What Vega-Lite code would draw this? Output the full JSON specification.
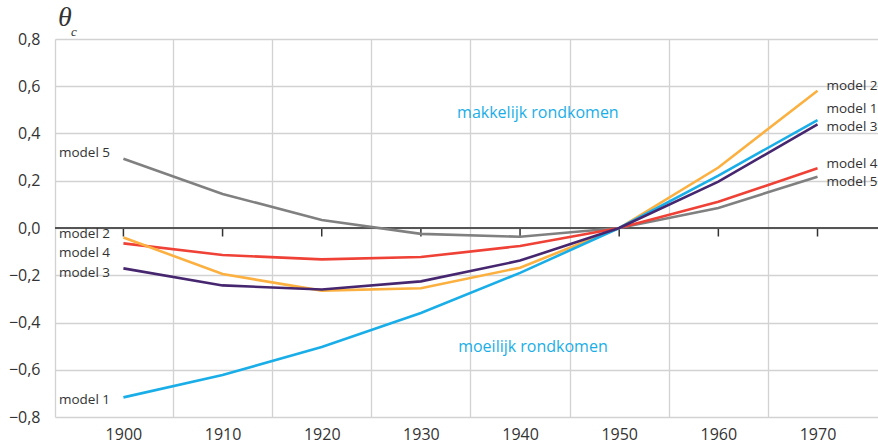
{
  "$schema": "https://vega.github.io/schema/vega-lite/v6.json",
  "width": 823,
  "height": 378,
  "autosize": {"type": "none"},
  "padding": {"left": 55, "top": 39, "right": 0, "bottom": 28},
  "background": "white",
  "config": {"view": {"stroke": null}, "font": "Open Sans"},
  "datasets": {
    "series": [
      {"year": 1900, "model": "model 5", "value": 0.293},
      {"year": 1910, "model": "model 5", "value": 0.144},
      {"year": 1920, "model": "model 5", "value": 0.034},
      {"year": 1930, "model": "model 5", "value": -0.025},
      {"year": 1940, "model": "model 5", "value": -0.037},
      {"year": 1950, "model": "model 5", "value": 0.0},
      {"year": 1960, "model": "model 5", "value": 0.085},
      {"year": 1970, "model": "model 5", "value": 0.217},
      {"year": 1900, "model": "model 4", "value": -0.065},
      {"year": 1910, "model": "model 4", "value": -0.114},
      {"year": 1920, "model": "model 4", "value": -0.133},
      {"year": 1930, "model": "model 4", "value": -0.123},
      {"year": 1940, "model": "model 4", "value": -0.076},
      {"year": 1950, "model": "model 4", "value": 0.0},
      {"year": 1960, "model": "model 4", "value": 0.111},
      {"year": 1970, "model": "model 4", "value": 0.253},
      {"year": 1900, "model": "model 2", "value": -0.04},
      {"year": 1910, "model": "model 2", "value": -0.195},
      {"year": 1920, "model": "model 2", "value": -0.265},
      {"year": 1930, "model": "model 2", "value": -0.255},
      {"year": 1940, "model": "model 2", "value": -0.168},
      {"year": 1950, "model": "model 2", "value": 0.0},
      {"year": 1960, "model": "model 2", "value": 0.256},
      {"year": 1970, "model": "model 2", "value": 0.581},
      {"year": 1900, "model": "model 1", "value": -0.717},
      {"year": 1910, "model": "model 1", "value": -0.622},
      {"year": 1920, "model": "model 1", "value": -0.504},
      {"year": 1930, "model": "model 1", "value": -0.36},
      {"year": 1940, "model": "model 1", "value": -0.19},
      {"year": 1950, "model": "model 1", "value": 0.0},
      {"year": 1960, "model": "model 1", "value": 0.222},
      {"year": 1970, "model": "model 1", "value": 0.457},
      {"year": 1900, "model": "model 3", "value": -0.171},
      {"year": 1910, "model": "model 3", "value": -0.243},
      {"year": 1920, "model": "model 3", "value": -0.26},
      {"year": 1930, "model": "model 3", "value": -0.226},
      {"year": 1940, "model": "model 3", "value": -0.138},
      {"year": 1950, "model": "model 3", "value": 0.0},
      {"year": 1960, "model": "model 3", "value": 0.196},
      {"year": 1970, "model": "model 3", "value": 0.439}
    ],
    "decades": [
      {"year": 1900}, {"year": 1910}, {"year": 1920}, {"year": 1930},
      {"year": 1940}, {"year": 1950}, {"year": 1960}, {"year": 1970}
    ],
    "modelLabels": [
      {"x": 1893.5, "y": 0.317, "text": "model 5"},
      {"x": 1893.5, "y": -0.027, "text": "model 2"},
      {"x": 1893.5, "y": -0.105, "text": "model 4"},
      {"x": 1893.5, "y": -0.192, "text": "model 3"},
      {"x": 1893.5, "y": -0.728, "text": "model 1"},
      {"x": 1970.9, "y": 0.601, "text": "model 2"},
      {"x": 1970.9, "y": 0.503, "text": "model 1"},
      {"x": 1970.9, "y": 0.428, "text": "model 3"},
      {"x": 1970.9, "y": 0.27, "text": "model 4"},
      {"x": 1970.9, "y": 0.195, "text": "model 5"}
    ],
    "annotations": [
      {"x": 1941.8, "y": 0.487, "text": "makkelijk rondkomen"},
      {"x": 1941.3, "y": -0.504, "text": "moeilijk rondkomen"}
    ],
    "symbol": [
      {"x": 1894.1, "y": 0.889, "text": "θ", "part": "main"},
      {"x": 1895.0, "y": 0.83, "text": "c", "part": "sub"}
    ],
    "zero": [{"v": 0}]
  },
  "resolve": {"axis": {"x": "independent"}},
  "layer": [
    {
      "data": {"name": "decades"},
      "mark": {"type": "rule", "color": "#333333", "strokeWidth": 1.5},
      "encoding": {
        "x": {
          "field": "year", "type": "quantitative",
          "scale": {"domain": [1893.1, 1976.1], "nice": false, "zero": false},
          "axis": {
            "orient": "bottom", "values": [1905, 1915, 1925, 1935, 1945, 1955, 1965],
            "grid": true, "gridColor": "#d2d2d2", "gridWidth": 1.3,
            "labels": false, "ticks": false, "domain": false, "title": null
          }
        },
        "y": {
          "datum": 0, "type": "quantitative",
          "scale": {"domain": [-0.8, 0.8], "nice": false, "zero": false},
          "axis": {
            "values": [-0.8, -0.6, -0.4, -0.2, 0, 0.2, 0.4, 0.6, 0.8],
            "format": ".1f",
            "labelExpr": "replace(datum.label, '.', ',')",
            "grid": true, "gridColor": "#d2d2d2", "gridWidth": 1.3,
            "domain": true, "domainColor": "#d2d2d2", "domainWidth": 1.3,
            "ticks": false, "labelPadding": 15, "labelFontSize": 16,
            "labelColor": "#333333", "labelFont": "Open Sans", "title": null
          }
        },
        "y2": {"datum": -0.036}
      }
    },
    {
      "data": {"name": "zero"},
      "mark": {"type": "rule", "color": "#555555", "strokeWidth": 2},
      "encoding": {"y": {"field": "v", "type": "quantitative"}}
    },
    {
      "data": {"name": "series"},
      "mark": {"type": "line", "strokeWidth": 2.6},
      "encoding": {
        "x": {
          "field": "year", "type": "quantitative",
          "axis": {
            "orient": "bottom", "values": [1900, 1910, 1920, 1930, 1940, 1950, 1960, 1970],
            "format": "d", "grid": false, "ticks": false, "domain": false,
            "labelPadding": 9, "labelFontSize": 16, "labelColor": "#333333",
            "labelFont": "Open Sans", "title": null
          }
        },
        "y": {"field": "value", "type": "quantitative"},
        "color": {
          "field": "model", "type": "nominal",
          "scale": {
            "domain": ["model 5", "model 4", "model 2", "model 1", "model 3"],
            "range": ["#808080", "#ef4136", "#fbb040", "#1aaee8", "#46276f"]
          },
          "legend": null
        }
      }
    },
    {
      "data": {"name": "modelLabels"},
      "mark": {"type": "text", "align": "left", "baseline": "middle", "fontSize": 13.5, "color": "#333333", "font": "Open Sans"},
      "encoding": {
        "x": {"field": "x", "type": "quantitative", "axis": null},
        "y": {"field": "y", "type": "quantitative"},
        "text": {"field": "text"}
      }
    },
    {
      "data": {"name": "annotations"},
      "mark": {"type": "text", "align": "center", "baseline": "middle", "fontSize": 16, "color": "#1aaee8", "font": "Open Sans"},
      "encoding": {
        "x": {"field": "x", "type": "quantitative", "axis": null},
        "y": {"field": "y", "type": "quantitative"},
        "text": {"field": "text"}
      }
    },
    {
      "data": {"name": "symbol"},
      "transform": [{"filter": "datum.part == 'main'"}],
      "mark": {"type": "text", "align": "center", "baseline": "middle", "fontSize": 28, "fontStyle": "italic", "color": "#333333", "font": "Liberation Serif"},
      "encoding": {
        "x": {"field": "x", "type": "quantitative", "axis": null},
        "y": {"field": "y", "type": "quantitative"},
        "text": {"field": "text"}
      }
    },
    {
      "data": {"name": "symbol"},
      "transform": [{"filter": "datum.part == 'sub'"}],
      "mark": {"type": "text", "align": "center", "baseline": "middle", "fontSize": 13, "fontStyle": "italic", "color": "#333333", "font": "Liberation Serif"},
      "encoding": {
        "x": {"field": "x", "type": "quantitative", "axis": null},
        "y": {"field": "y", "type": "quantitative"},
        "text": {"field": "text"}
      }
    }
  ]
}
